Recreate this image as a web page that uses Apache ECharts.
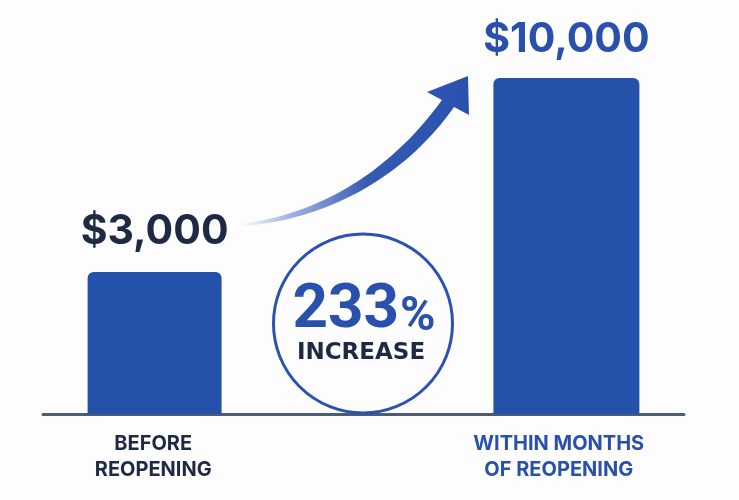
<!DOCTYPE html>
<html>
<head>
<meta charset="utf-8">
<script src="https://cdn.jsdelivr.net/npm/echarts@6/dist/echarts.min.js"></script>
<style>
html,body{margin:0;padding:0;background:#fdfdfe;}
#chart{width:739px;height:500px;}
</style>
</head>
<body>
<div id="chart"></div>
<script>
// ---- data ----
const categories = ['BEFORE\nREOPENING', 'WITHIN MONTHS\nOF REOPENING'];
const revenue = [3000, 10000];
const increaseLabel = 'INCREASE';

// ---- styles (kept separate from data) ----
const barColor = '#2451aa';
const darkText = '#1e2a44';
const blueText = '#2a50ad';
const barWidths = [134, 146];
const valueColors = [darkText, blueText];
const labelDistances = [20, 18];

const pct = Math.round((revenue[1] - revenue[0]) / revenue[0] * 100);
const money = v => '$' + v.toLocaleString('en-US');

// arrow outline (decorative annotation) sampled from two cubic curves
function cubic(p0, p1, p2, p3, n) {
  const pts = [];
  for (let k = 0; k <= n; k++) {
    const t = k / n, u = 1 - t;
    pts.push([
      u*u*u*p0[0] + 3*u*u*t*p1[0] + 3*u*t*t*p2[0] + t*t*t*p3[0],
      u*u*u*p0[1] + 3*u*u*t*p1[1] + 3*u*t*t*p2[1] + t*t*t*p3[1]
    ]);
  }
  return pts;
}
const arrowPts = []
  .concat(cubic([240,224],[330,213],[397,162],[441.9,100.1], 40))
  .concat([[427,92],[468,76],[469,115]])
  .concat(cubic([454.1,106.9],[410,170],[336,219],[240,226.5], 40));

const chart = echarts.init(document.getElementById('chart'), null, {renderer: 'canvas'});

const series = revenue.map((v, i) => ({
  type: 'bar',
  data: revenue.map((w, j) => (j === i ? w : '-')),
  barWidth: barWidths[i],
  barGap: '-36.34%',
  clip: true,
  itemStyle: {color: barColor, borderRadius: [6, 6, 0, 0]},
  label: {
    show: true,
    position: 'top',
    distance: labelDistances[i],
    formatter: p => money(p.value),
    fontFamily: 'Inter',
    fontWeight: 'bold',
    fontSize: 41,
    color: valueColors[i]
  },
  z: 2
}));

const option = {
  backgroundColor: '#fdfdfe',
  animation: false,
  grid: {left: 43, right: 55, top: 48.6, bottom: 86},
  xAxis: {
    type: 'category',
    data: categories,
    axisTick: {show: false},
    axisLine: {lineStyle: {color: '#4e5b76', width: 3}},
    axisLabel: {
      interval: 0,
      margin: 17,
      formatter: (val, idx) => val.split('\n').map(s => '{c' + idx + '|' + s + '}').join('\n'),
      rich: {
        c0: {padding: [0, 100, 0, 0], color: darkText, fontFamily: 'Inter', fontWeight: 'bold', fontSize: 20, lineHeight: 26},
        c1: {padding: [0, 0, 0, 70], color: blueText, fontFamily: 'Inter', fontWeight: 'bold', fontSize: 20, lineHeight: 26}
      }
    }
  },
  yAxis: {
    type: 'log',
    min: 1242,
    max: 12000,
    show: false,
    splitLine: {show: false}
  },
  series: series,
  graphic: [
    {
      type: 'polygon',
      z: 5,
      shape: {points: arrowPts},
      style: {
        fill: {
          type: 'linear', x: 0, y: 0, x2: 1, y2: 0,
          colorStops: [
            {offset: 0, color: 'rgba(70,110,200,0.0)'},
            {offset: 0.2, color: 'rgba(60,100,195,0.45)'},
            {offset: 0.55, color: 'rgba(42,82,173,0.95)'},
            {offset: 1, color: '#2a52ad'}
          ]
        }
      }
    },
    {
      type: 'circle',
      z: 5,
      shape: {cx: 363, cy: 323.5, r: 89.5},
      style: {fill: 'rgba(255,255,255,0)', stroke: '#2a52b0', lineWidth: 3}
    },
    {
      type: 'text',
      z: 6,
      style: {
        x: 364, y: 311,
        text: '{n|' + pct + '}{p|%}',
        align: 'center',
        verticalAlign: 'middle',
        rich: {
          n: {fontFamily: 'Roboto', fontWeight: 'bold', fontSize: 62, fill: blueText, lineHeight: 62},
          p: {fontFamily: 'Roboto', fontWeight: 'bold', fontSize: 48, fill: blueText, lineHeight: 62, verticalAlign: 'bottom', padding: [0, 0, 0, 1]}
        }
      }
    },
    {
      type: 'text',
      z: 6,
      style: {
        x: 361, y: 353.5,
        text: increaseLabel,
        align: 'center',
        verticalAlign: 'middle',
        fontFamily: 'DejaVu Sans',
        fontWeight: 'bold',
        fontSize: 23,
        fill: darkText
      }
    }
  ]
};
chart.setOption(option);
</script>
</body>
</html>
